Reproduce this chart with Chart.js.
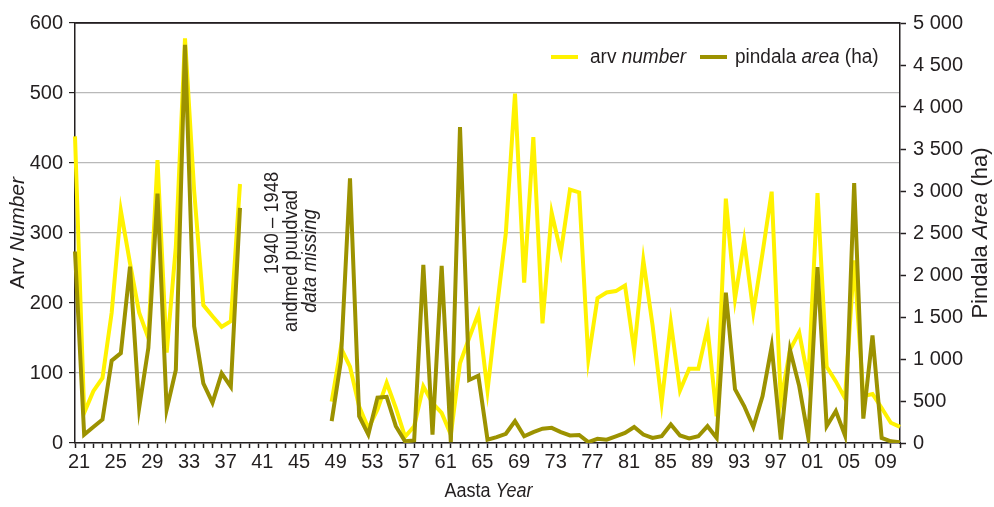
<!DOCTYPE html>
<html>
<head>
<meta charset="utf-8">
<script src="https://cdn.jsdelivr.net/npm/chart.js@4.4.1/dist/chart.umd.min.js"></script>
<style>
  html, body { margin: 0; padding: 0; background: #fff; }
  #wrap { width: 994px; height: 507px; }
</style>
</head>
<body>
<div id="wrap"><canvas id="chart" width="994" height="507"></canvas></div>
<script>
// years 1921 - 2011, no data for 1940 - 1948
const years = Array.from({ length: 91 }, (_, i) => 1921 + i);

// arv / number (left axis)
const numberValues = [
  438, 43, 74, 93, 186, 332, 257, 186, 150, 404, 129, 280, 578, 360, 197, 181, 166, 174, 370,
  null, null, null, null, null, null, null, null, null,
  59, 136, 109, 52, 21, 48, 86, 50, 9, 24, 81, 57, 43, 12, 114, 150, 185, 75,
  190, 300, 499, 229, 437, 171, 329, 272, 362, 358, 120, 207, 215, 217, 225, 132, 261,
  169, 58, 172, 75, 106, 106, 164, 38, 349, 206, 289, 187, 271, 359, 59, 133, 158, 90,
  357, 109, 88, 64, 261, 67, 70, 50, 29, 23
];

// pindala / area in ha (right axis)
const areaValues = [
  2280, 100, 190, 280, 980, 1070, 2100, 420, 1130, 2970, 400, 870, 4740, 1390, 710, 480, 830, 670, 2800,
  null, null, null, null, null, null, null, null, null,
  260, 970, 3150, 320, 100, 540, 550, 200, 20, 30, 2120, 100, 2110, 10, 3760, 750, 800, 40,
  70, 110, 260, 80, 130, 170, 180, 130, 90, 95, 10, 50, 40, 80, 120, 190, 100,
  60, 80, 220, 90, 55, 80, 200, 60, 1790, 640, 440, 190, 555, 1150, 40, 1110, 680, 60,
  2095, 200, 380, 90, 3095, 290, 1280, 60, 20, 10
];

const YELLOW = '#fff200';
const OLIVE = '#9c9200';
const INK = '#231f20';
const FONT = "'Liberation Sans Narrow', 'Arial Narrow', 'Liberation Sans', Arial, sans-serif";

// draws mixed normal/italic text centred on x, squeezed horizontally by sx
function drawParts(ctx, parts, x, y, size, sx = 1) {
  let total = 0;
  parts.forEach(p => {
    ctx.font = (p.i ? 'italic ' : '') + size + 'px ' + FONT;
    p.w = ctx.measureText(p.t).width;
    total += p.w;
  });
  ctx.save();
  ctx.translate(x, y);
  ctx.scale(sx, 1);
  let cx = -total / 2;
  ctx.textAlign = 'left';
  ctx.textBaseline = 'middle';
  parts.forEach(p => {
    ctx.font = (p.i ? 'italic ' : '') + size + 'px ' + FONT;
    ctx.fillText(p.t, cx, 0);
    cx += p.w;
  });
  ctx.restore();
}

function drawLeft(ctx, parts, x, y, size, sx = 1) {
  ctx.save();
  ctx.translate(x, y);
  ctx.scale(sx, 1);
  ctx.textAlign = 'left';
  ctx.textBaseline = 'middle';
  let cx = 0;
  parts.forEach(p => {
    ctx.font = (p.i ? 'italic ' : '') + size + 'px ' + FONT;
    ctx.fillText(p.t, cx, 0);
    cx += ctx.measureText(p.t).width;
  });
  ctx.restore();
}

const textPlugin = {
  id: 'textPlugin',
  afterDraw(chart) {
    const { ctx, chartArea: a, scales } = chart;
    ctx.save();
    ctx.fillStyle = INK;

    // top frame
    ctx.strokeStyle = INK;
    ctx.lineWidth = 1.5;
    ctx.beginPath();
    ctx.moveTo(a.left, a.top);
    ctx.lineTo(a.right, a.top);
    ctx.stroke();

    // axis titles
    drawParts(ctx, [{ t: 'Aasta ' }, { t: 'Year', i: true }], (a.left + a.right) / 2 + 1, 491, 20, 0.9);

    ctx.save();
    ctx.translate(18, (a.top + a.bottom) / 2);
    ctx.rotate(-Math.PI / 2);
    drawParts(ctx, [{ t: 'Arv ' }, { t: 'Number', i: true }], 0, 0, 21);
    ctx.restore();

    ctx.save();
    ctx.translate(981, (a.top + a.bottom) / 2);
    ctx.rotate(-Math.PI / 2);
    drawParts(ctx, [{ t: 'Pindala ' }, { t: 'Area', i: true }, { t: ' (ha)' }], 0, 0, 22);
    ctx.restore();

    // gap note
    const gx = scales.x.getPixelForValue(years.indexOf(1944));
    const notes = [
      { parts: [{ t: '1940 \u2013 1948' }], dx: -13, y: 223 },
      { parts: [{ t: 'andmed puudvad' }], dx: 6, y: 261 },
      { parts: [{ t: 'data missing', i: true }], dx: 25, y: 261 }
    ];
    notes.forEach(n => {
      ctx.save();
      ctx.translate(gx + n.dx, n.y);
      ctx.rotate(-Math.PI / 2);
      drawParts(ctx, n.parts, 0, 0, 20, 0.92);
      ctx.restore();
    });

    // legend
    const ly = 57;
    ctx.lineWidth = 4;
    ctx.strokeStyle = YELLOW;
    ctx.beginPath(); ctx.moveTo(551, ly); ctx.lineTo(578, ly); ctx.stroke();
    ctx.strokeStyle = OLIVE;
    ctx.beginPath(); ctx.moveTo(700, ly); ctx.lineTo(727, ly); ctx.stroke();
    drawLeft(ctx, [{ t: 'arv ' }, { t: 'number', i: true }], 590, ly, 20, 0.95);
    drawLeft(ctx, [{ t: 'pindala ' }, { t: 'area', i: true }, { t: ' (ha)' }], 735, ly, 20, 0.95);

    ctx.restore();
  }
};

const tickFont = { family: FONT, size: 20 };

new Chart(document.getElementById('chart'), {
  type: 'line',
  data: {
    labels: years,
    datasets: [
      {
        label: 'arv number',
        data: numberValues,
        yAxisID: 'y',
        borderColor: YELLOW,
        borderWidth: 4,
        pointRadius: 0,
        spanGaps: false,
        order: 2
      },
      {
        label: 'pindala area (ha)',
        data: areaValues,
        yAxisID: 'y2',
        borderColor: OLIVE,
        borderWidth: 4,
        pointRadius: 0,
        spanGaps: false,
        order: 1
      }
    ]
  },
  options: {
    responsive: false,
    animation: false,
    devicePixelRatio: 1,
    layout: { padding: { top: 23, left: 0, right: 0, bottom: 0 } },
    plugins: { legend: { display: false }, tooltip: { enabled: false } },
    scales: {
      x: {
        type: 'category',
        offset: false,
        afterFit(s) { s.height = 64; },
        grid: { drawOnChartArea: false, tickLength: 5, tickColor: INK, tickWidth: 1.5 },
        border: { color: INK, width: 1.5 },
        ticks: {
          autoSkip: false,
          maxRotation: 0,
          minRotation: 0,
          padding: 2,
          labelOffset: 4,
          color: INK,
          font: tickFont,
          callback: (v, i) => (years[i] - 1921) % 4 === 0 ? String(years[i]).slice(2) : ''
        }
      },
      y: {
        position: 'left',
        min: 0,
        max: 600,
        afterFit(s) { s.width = 75; },
        grid: {
          color: c => (c.tick && c.tick.value === 600) ? INK : '#b9b9b9',
          lineWidth: 1.2,
          tickLength: 6,
          tickColor: INK
        },
        border: { color: INK, width: 1.5 },
        ticks: { stepSize: 100, padding: 6, color: INK, font: tickFont }
      },
      y2: {
        position: 'right',
        min: 0,
        max: 5000,
        afterFit(s) { s.width = 94; },
        grid: { drawOnChartArea: false, tickLength: 6, tickColor: INK, tickWidth: 1.5 },
        border: { color: INK, width: 1.5 },
        ticks: {
          stepSize: 500,
          padding: 7,
          color: INK,
          font: tickFont,
          callback: v => String(v).replace(/\B(?=(\d{3})+(?!\d))/g, ' ')
        }
      }
    }
  },
  plugins: [textPlugin]
});
</script>
</body>
</html>
